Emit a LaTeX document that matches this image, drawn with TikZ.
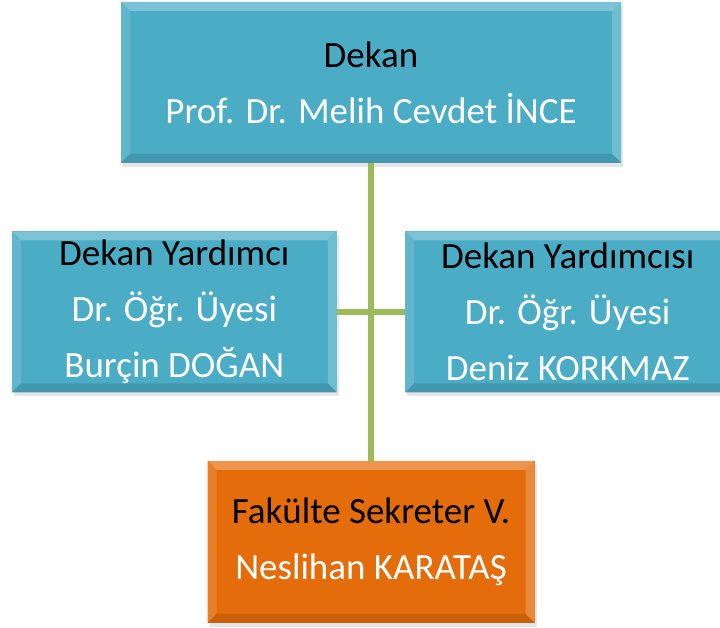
\documentclass[tikz,border=0pt]{standalone}
\usepackage{fontspec}
\setmainfont{Carlito}
\usepackage{xcolor}
\usetikzlibrary{positioning,shadows}
\definecolor{dkteal}{HTML}{4BACC6}
\definecolor{dkorange}{HTML}{E46C0A}
\definecolor{dkgreen}{HTML}{9BBB59}
\tikzset{
  % bevelled edge of the boxes
  bevel/.style={path picture={
    \fill[#1!72!white] (path picture bounding box.north west) -- (path picture bounding box.north east)
      -- ([shift={(-9pt,-9pt)}]path picture bounding box.north east)
      -- ([shift={(9pt,-9pt)}]path picture bounding box.north west) -- cycle;
    \fill[#1!88!white] (path picture bounding box.north west) -- ([shift={(9pt,-9pt)}]path picture bounding box.north west)
      -- ([shift={(9pt,9pt)}]path picture bounding box.south west) -- (path picture bounding box.south west) -- cycle;
    \fill[#1!80!white] (path picture bounding box.north east) -- ([shift={(-9pt,-9pt)}]path picture bounding box.north east)
      -- ([shift={(-9pt,9pt)}]path picture bounding box.south east) -- (path picture bounding box.south east) -- cycle;
    \fill[#1!88!black] (path picture bounding box.south west) -- (path picture bounding box.south east)
      -- ([shift={(-9pt,9pt)}]path picture bounding box.south east)
      -- ([shift={(9pt,9pt)}]path picture bounding box.south west) -- cycle;
  }},
}
\begin{document}
\begin{tikzpicture}[x=1pt, y=1pt,
  card/.style={rectangle, align=center, text=white, inner sep=0pt,
    font=\fontsize{37}{56}\selectfont,
    drop shadow={shadow xshift=2pt, shadow yshift=-4pt, opacity=.2}},
  dkn/.style={card, fill=dkteal, minimum width=500pt, minimum height=161pt, bevel=dkteal},
  ydm/.style={card, fill=dkteal, minimum width=325pt, minimum height=161pt, bevel=dkteal},
  sek/.style={card, fill=dkorange, minimum width=327pt, minimum height=162pt, bevel=dkorange},
  link/.style={draw=dkgreen, line width=6pt}]
\useasboundingbox (0,0) rectangle (720,-628);
\node[dkn] (dekan) at (371,-82.5) {{\color{black}Dekan}\\Prof. Dr. Melih Cevdet İNCE};
\node[ydm, below left=68pt and 34pt of dekan.south] (ydl) {{\color{black}Dekan Yardımcı}\\Dr. Öğr. Üyesi\\Burçin DOĞAN};
\node[ydm, below right=68pt and 34pt of dekan.south] (ydr) {{\color{black}Dekan Yardımcısı}\\Dr. Öğr. Üyesi\\Deniz KORKMAZ};
\coordinate (mid) at (dekan.south |- ydl.south);
\node[sek, below=68pt of mid] (sekreter) {{\color{black}Fakülte Sekreter V.}\\Neslihan KARATAŞ};
\draw[link] (dekan) -- (sekreter);
\draw[link] (ydl) -- (ydr);
\end{tikzpicture}
\end{document}
